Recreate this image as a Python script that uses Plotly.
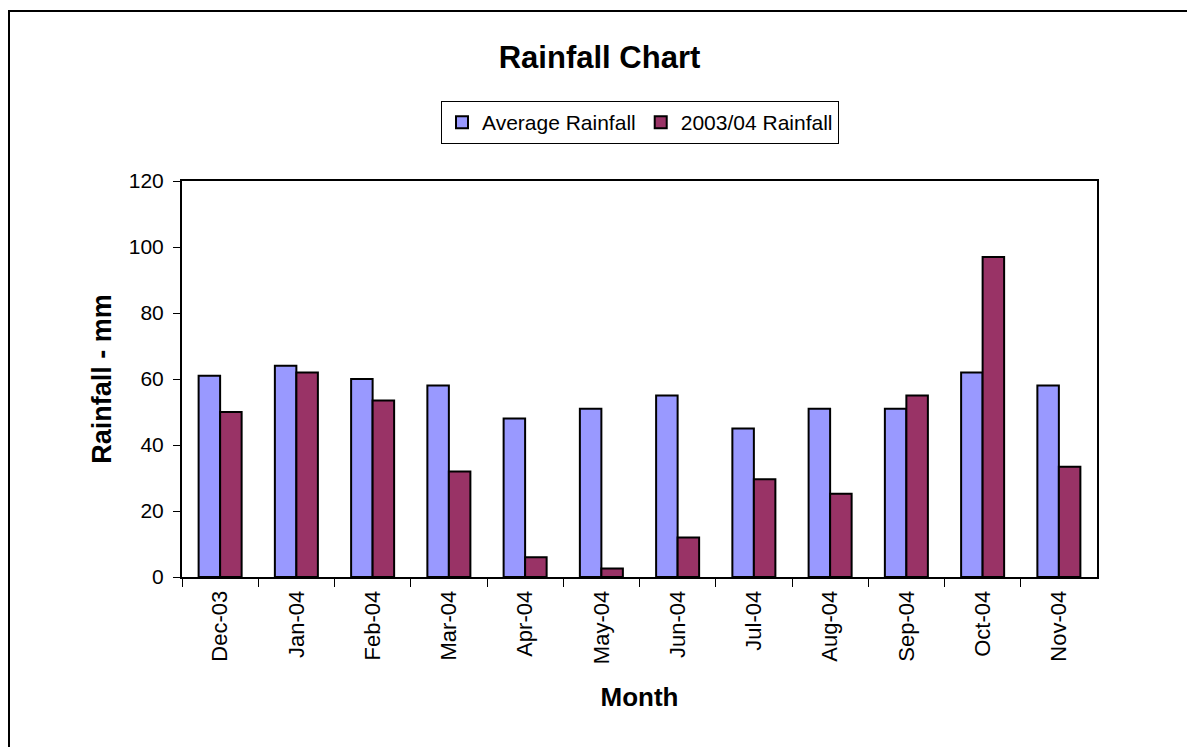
import plotly.graph_objects as go

months = ["Dec-03", "Jan-04", "Feb-04", "Mar-04", "Apr-04", "May-04",
          "Jun-04", "Jul-04", "Aug-04", "Sep-04", "Oct-04", "Nov-04"]
average_rainfall = [61, 64, 60, 58, 48, 51, 55, 45, 51, 51, 62, 58]
rainfall_2003_04 = [50, 62, 53.5, 32, 6, 2.6, 12, 29.6, 25.2, 55, 97, 33.4]
y_ticks = [0, 20, 40, 60, 80, 100, 120]

# page is shown with an 8px body margin, so the figure is sized to fit the window
OFF = 8
W, H = 1195 - OFF, 747 - OFF
FONT = "Liberation Sans, Arial, sans-serif"


def fx(p):
    return (p - OFF) / W


def fy(p):
    return 1 - (p - OFF) / H


fig = go.Figure()
fig.add_trace(go.Bar(x=months, y=average_rainfall, name="Average Rainfall",
                     marker=dict(color="#9999FF", line=dict(color="black", width=2))))
fig.add_trace(go.Bar(x=months, y=rainfall_2003_04, name="2003/04 Rainfall",
                     marker=dict(color="#993366", line=dict(color="black", width=2))))

fig.update_layout(
    width=W, height=H, autosize=False,
    margin=dict(l=0, r=0, t=0, b=0, autoexpand=False),
    paper_bgcolor="white", plot_bgcolor="white",
    font=dict(family=FONT, color="black", size=20),
    barmode="group", bargap=0.436, bargroupgap=0,
    showlegend=True,
    title=dict(text="<b>Rainfall Chart</b>", x=fx(599.5), xanchor="center",
               y=fy(57), yanchor="middle", xref="paper", yref="paper",
               font=dict(size=31, family=FONT)),
    legend=dict(orientation="h", x=fx(640), xanchor="center", y=fy(101), yanchor="top",
                bordercolor="black", borderwidth=1, font=dict(size=21, family=FONT),
                bgcolor="white", itemwidth=30, tracegroupgap=0),
    xaxis=dict(domain=[fx(182), fx(1097)], type="category", automargin=False,
               tickangle=-90, tickson="boundaries", ticks="outside", ticklen=8,
               tickcolor="black", showline=True, linecolor="black", linewidth=2,
               mirror=True, showgrid=False, ticklabelstandoff=3,
               title=dict(text="<b>Month</b>", font=dict(size=26, family=FONT), standoff=25),
               tickfont=dict(size=22)),
    yaxis=dict(domain=[fy(577), fy(181)], range=[0, 120], tickvals=y_ticks, automargin=False,
               ticks="outside", ticklen=7, tickcolor="black", showline=True,
               linecolor="black", linewidth=2, mirror=True, showgrid=False,
               zeroline=False, ticklabelstandoff=5,
               title=dict(text="<b>Rainfall - mm</b>", font=dict(size=27, family=FONT), standoff=9),
               tickfont=dict(size=21)),
    shapes=[dict(type="rect", xref="paper", yref="paper",
                 x0=fx(9), x1=fx(1230), y0=fy(780), y1=fy(11),
                 line=dict(color="black", width=2))],
)

fig.write_html("out.html")
